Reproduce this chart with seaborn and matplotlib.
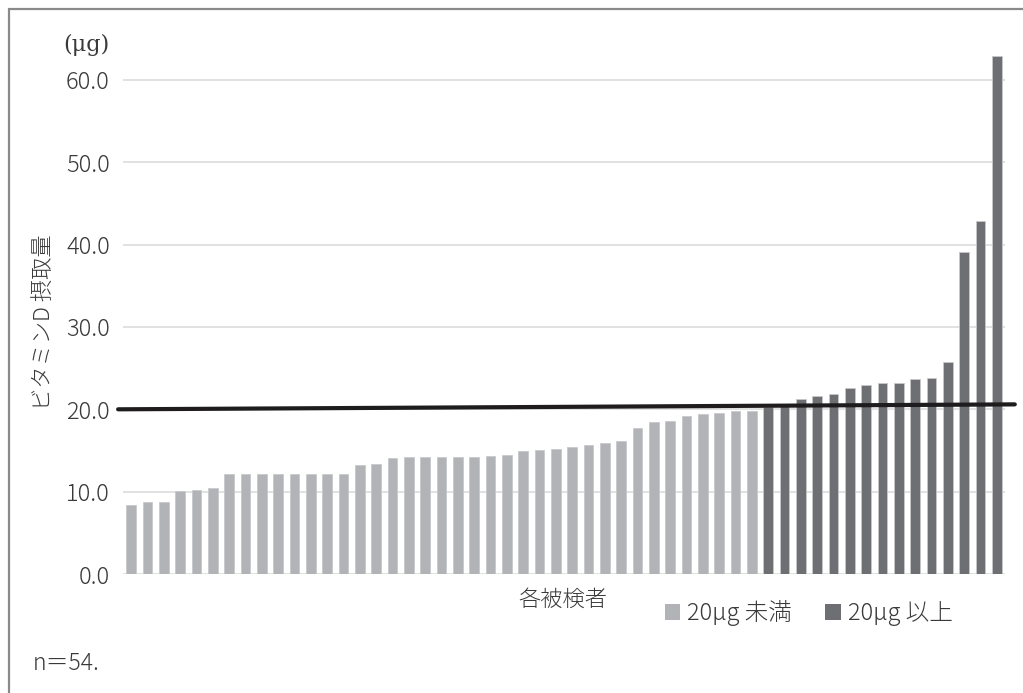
import numpy as np
import pandas as pd
import matplotlib
matplotlib.use("Agg")
import matplotlib.pyplot as plt
from matplotlib.patches import Patch
from matplotlib.lines import Line2D
import seaborn as sns

# Vitamin D intake per subject (µg/day), sorted ascending
below_20 = [8.4, 8.7, 8.7, 10.1, 10.2, 10.4,
            12.1, 12.1, 12.1, 12.1, 12.1, 12.1, 12.1, 12.1,
            13.2, 13.3, 14.1, 14.2, 14.2, 14.2, 14.2, 14.2, 14.3, 14.4,
            14.9, 15.1, 15.2, 15.4, 15.7, 15.9, 16.2, 17.7, 18.5, 18.6,
            19.2, 19.4, 19.6, 19.8, 19.8]
at_least_20 = [20.3, 20.4, 21.3, 21.6, 21.8, 22.6, 22.9, 23.2, 23.2,
               23.7, 23.8, 25.7, 39.1, 42.9, 62.9]
group_labels = ["20μg 未満", "20μg 以上"]
group_colors = ["#b2b3b7", "#6e6f73"]
y_ticks = [0, 10, 20, 30, 40, 50, 60]
reference_line = [20.0, 20.6]   # value at left end, value at right end

sns.set_theme(style="white")
plt.rcParams["font.family"] = ["Noto Sans CJK JP", "DejaVu Sans"]
plt.rcParams["font.weight"] = "light"
text_color = "#3a3a3a"

intake = below_20 + at_least_20
df = pd.DataFrame({
    "subject": [str(i) for i in range(len(intake))],
    "intake": intake,
    "group": [group_labels[0]] * len(below_20) + [group_labels[1]] * len(at_least_20),
})

W, H = 1023, 693
fig = plt.figure(figsize=(W / 100, H / 100), dpi=100)
ax_left, ax_right, ax_bottom, ax_top = 123, 1005, 574, 47
ax = fig.add_axes([ax_left / W, 1 - ax_bottom / H,
                   (ax_right - ax_left) / W, (ax_bottom - ax_top) / H])

sns.barplot(data=df, x="subject", y="intake", hue="group",
            palette=dict(zip(group_labels, group_colors)),
            dodge=False, width=0.58, saturation=1, legend=False,
            edgecolor="#c8c9cc", linewidth=0.6, ax=ax)

ax.set_xlim(-0.5, len(intake) - 0.5)
ax.set_ylim(0, 64)
ax.set_yticks(y_ticks)
ax.set_yticklabels([f"{v:.1f}" for v in y_ticks], fontsize=17, color=text_color)
ax.set_xticks([])
ax.set_xlabel("")
ax.set_ylabel("")
ax.yaxis.grid(True, color="#dcdcdc", linewidth=1.2)
ax.set_axisbelow(True)
ax.tick_params(axis="y", length=0, pad=9.5)
for s in ax.spines.values():
    s.set_visible(False)

# reference line (black, slightly rising)
ax.add_line(Line2D([-0.8, 54.1], reference_line, color="#1e1c1c",
                   linewidth=3.0, clip_on=False, zorder=5))

# texts
fig.text(86 / W, 1 - 45 / H, "(μg)", fontsize=16, color=text_color,
         family=["DejaVu Serif"], ha="center", va="center")
fig.text(45 / W, 1 - 322 / H, "ビタミンD 摂取量", rotation=90, fontsize=16,
         color=text_color, ha="center", va="center")
fig.text(563 / W, 1 - 600 / H, "各被検者", fontsize=16, color=text_color,
         ha="center", va="center")
fig.text(33 / W, 1 - 664 / H, "n＝54.", fontsize=16.5, color=text_color,
         ha="left", va="center")

handles = [Patch(facecolor=c, edgecolor="none") for c in group_colors]
fig.legend(handles, group_labels, loc="center left",
           bbox_to_anchor=(665 / W, 1 - 613 / H), ncol=2, frameon=False,
           borderpad=0, borderaxespad=0, prop={"size": 17, "weight": "light"},
           handlelength=0.65, handleheight=0.65,
           handletextpad=0.3, columnspacing=1.4, labelcolor=text_color)

# outer frame (left and top edges)
fig.add_artist(Line2D([9 / W, 9 / W], [0, 1 - 9 / H], color="#8a8a8a",
                      linewidth=1.6, transform=fig.transFigure))
fig.add_artist(Line2D([9 / W, 1], [1 - 9 / H, 1 - 9 / H], color="#8a8a8a",
                      linewidth=1.6, transform=fig.transFigure))

fig.savefig("out.png", dpi=100, facecolor="white")
